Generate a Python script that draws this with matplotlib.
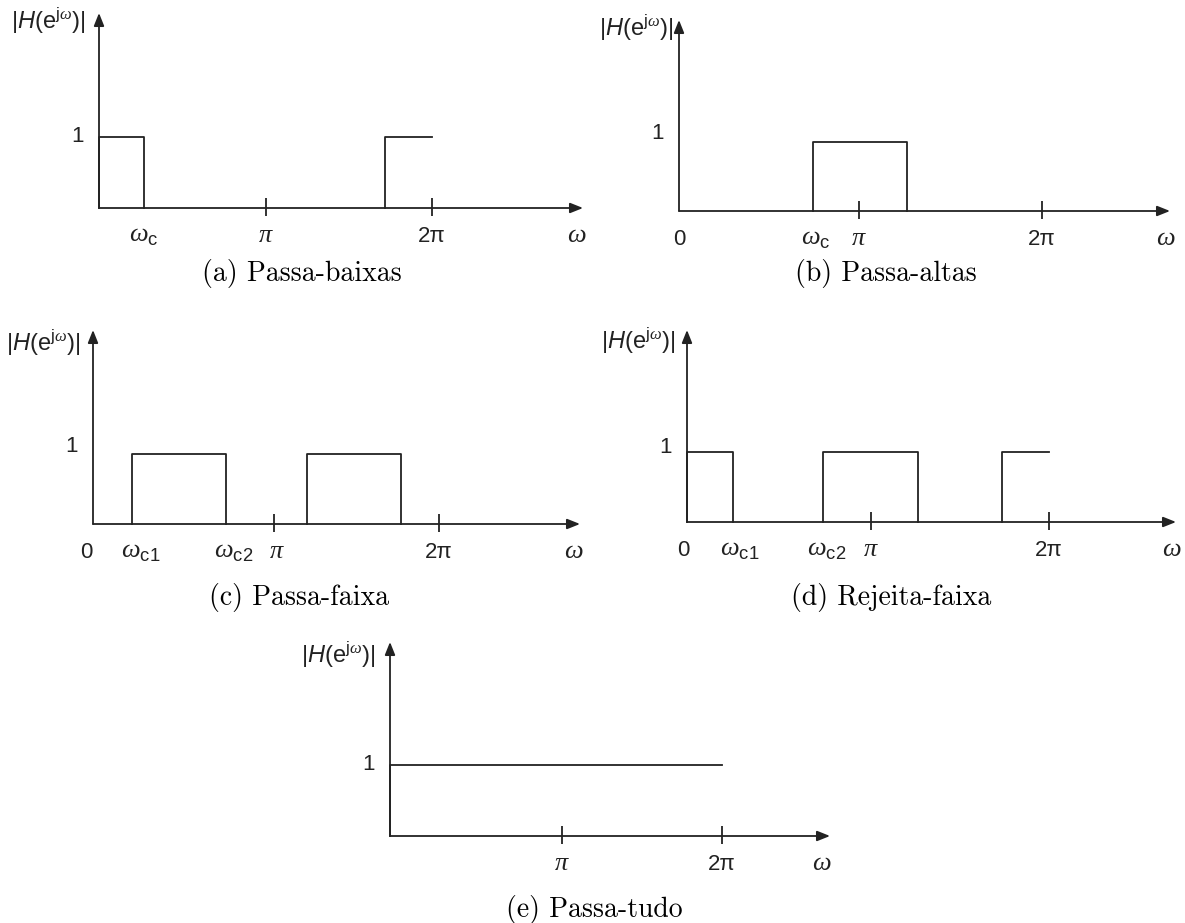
import matplotlib
matplotlib.use("Agg")
import matplotlib.pyplot as plt
from matplotlib.transforms import ScaledTranslation

plt.rcParams['mathtext.fontset'] = 'custom'
plt.rcParams['mathtext.rm'] = 'Liberation Sans'
plt.rcParams['mathtext.it'] = 'Liberation Sans:italic'
plt.rcParams['mathtext.sf'] = 'Liberation Sans'
# serif italic greek (omega, pi) goes through \mathcal
plt.rcParams['mathtext.cal'] = 'Liberation Serif:italic'

W, H = 1185, 923
INK = '#222222'
SANS = 'Liberation Sans'

# pass bands, frequencies in units of pi (a band ending at 2 stays open)
lp_start = [0.0, 1.72]
lp_stop = [0.27, 2.0]
hp_start = [0.74]
hp_stop = [1.256]
bp_start = [0.224, 1.237]
bp_stop = [0.767, 1.78]
bs_start = [0.0, 0.751, 1.74]
bs_stop = [0.254, 1.276, 2.0]
ap_start = [0.0]
ap_stop = [2.0]

# tick marks on the frequency axis (units of pi)
lp_ticks = [1.0, 2.0]
hp_ticks = [0.99, 2.0]
bp_ticks = [1.046, 2.0]
bs_ticks = [1.017, 2.0]
ap_ticks = [1.036, 2.0]

W_C = r'$\mathcal{\omega}_\mathrm{c}$'
W_C1 = r'$\mathcal{\omega}_\mathrm{c1}$'
W_C2 = r'$\mathcal{\omega}_\mathrm{c2}$'
PI = r'$\mathcal{\pi}$'
OMEGA = r'$\mathcal{\omega}$'

# axis labels and where they sit (units of pi)
lp_labels = [W_C, PI, '2π', OMEGA]
lp_lab_x = [0.27, 1.0, 2.0, 2.87]
hp_labels = ['0', W_C, PI, '2π', OMEGA]
hp_lab_x = [0.0, 0.755, 0.99, 2.0, 2.68]
bp_labels = ['0', W_C1, W_C2, PI, '2π', OMEGA]
bp_lab_x = [-0.04, 0.277, 0.815, 1.064, 2.0, 2.78]
bs_labels = ['0', W_C1, W_C2, PI, '2π', OMEGA]
bs_lab_x = [-0.02, 0.293, 0.773, 1.017, 2.0, 2.68]
ap_labels = [PI, '2π', OMEGA]
ap_lab_x = [1.036, 2.0, 2.6]

ylab = r'$|H(\mathrm{e}^{\mathrm{j}\mathcal{\omega}})|$'

panels = [
    dict(x0=99, y0=208, sx=166.5, sy=71, xend=583, ytop=13,
         start=lp_start, stop=lp_stop, ticks=lp_ticks, labels=lp_labels, lab_x=lp_lab_x,
         one=1.0, hx=85, hy=21, cap='(a) Passa-baixas', cx=302, cy=273),
    dict(x0=679, y0=211, sx=181.5, sy=69.5, xend=1170, ytop=20,
         start=hp_start, stop=hp_stop, ticks=hp_ticks, labels=hp_labels, lab_x=hp_lab_x,
         one=1.12, hx=673, hy=28, cap='(b) Passa-altas', cx=886, cy=273),
    dict(x0=93, y0=524, sx=173, sy=70, xend=580, ytop=330,
         start=bp_start, stop=bp_stop, ticks=bp_ticks, labels=bp_labels, lab_x=bp_lab_x,
         one=1.1, hx=80, hy=343, cap='(c) Passa-faixa', cx=299, cy=598),
    dict(x0=687, y0=522, sx=181, sy=70, xend=1176, ytop=330,
         start=bs_start, stop=bs_stop, ticks=bs_ticks, labels=bs_labels, lab_x=bs_lab_x,
         one=1.07, hx=675, hy=341, cap='(d) Rejeita-faixa', cx=891, cy=598),
    dict(x0=390, y0=836, sx=166, sy=71, xend=830, ytop=642,
         start=ap_start, stop=ap_stop, ticks=ap_ticks, labels=ap_labels, lab_x=ap_lab_x,
         one=1.0, hx=375, hy=655, cap='(e) Passa-tudo', cx=594, cy=909),
]

fig = plt.figure(figsize=(W / 100, H / 100), dpi=100)

for p in panels:
    xmax = (p['xend'] - p['x0']) / p['sx']
    ymax = (p['y0'] - p['ytop']) / p['sy']
    ax = fig.add_axes([p['x0'] / W, (H - p['y0']) / H,
                       (p['xend'] - p['x0']) / W, (p['y0'] - p['ytop']) / H])
    ax.set_xlim(0, xmax)
    ax.set_ylim(0, ymax)
    ax.axis('off')

    arrow = dict(arrowstyle='-|>,head_length=0.7,head_width=0.28', color=INK,
                 lw=1.3, shrinkA=0, shrinkB=0, mutation_scale=11)
    ax.annotate('', xy=(xmax, 0), xytext=(0, 0), arrowprops=arrow, annotation_clip=False)
    ax.annotate('', xy=(0, ymax), xytext=(0, 0), arrowprops=arrow, annotation_clip=False)

    ax.vlines(p['ticks'], -8 / p['sy'], 10 / p['sy'], color=INK, lw=1.3, clip_on=False)

    for a, b in zip(p['start'], p['stop']):
        if b >= 2.0:
            ax.plot([a, a, b], [0, 1, 1], color=INK, lw=1.3, clip_on=False)
        else:
            ax.plot([a, a, b, b], [0, 1, 1, 0], color=INK, lw=1.3, clip_on=False)

    below = ax.transData + ScaledTranslation(0, -0.34, fig.dpi_scale_trans)
    for x, lab in zip(p['lab_x'], p['labels']):
        size = 16
        if lab.startswith('$'):
            size = 19
        ax.text(x, 0, lab, transform=below, ha='center', va='baseline',
                fontsize=size, family=SANS, color=INK)

    left = ax.transData + ScaledTranslation(-0.15, 0, fig.dpi_scale_trans)
    ax.text(0, p['one'], '1', transform=left, ha='right', va='center',
            fontsize=16, family=SANS, color=INK)

    fig.text(p['hx'] / W, 1 - p['hy'] / H, ylab, ha='right', va='center',
             fontsize=17, color=INK)
    fig.text(p['cx'] / W, 1 - p['cy'] / H, p['cap'], ha='center', va='center',
             fontsize=20, family=['cmr10', 'DejaVu Serif'], color='black')

fig.savefig('out.png', dpi=100, facecolor='white')
